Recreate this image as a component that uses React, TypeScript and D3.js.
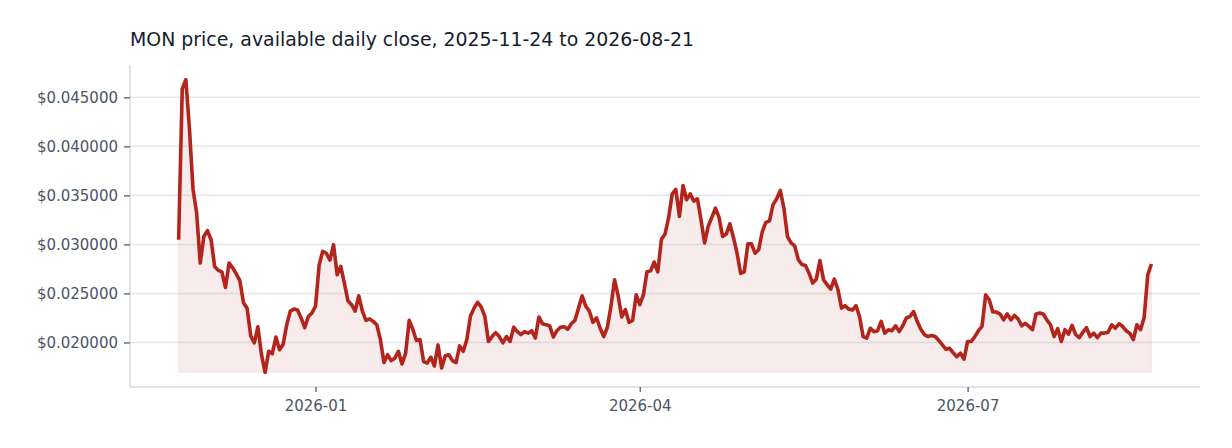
import React, { useEffect, useRef } from 'react';
import * as d3 from 'd3';

// Daily closes (USD), one value per calendar day starting 2025-11-24
const startDate = '2025-11-24';

const closesNov2025 = [0.03048, 0.04586, 0.0468, 0.0418, 0.0356, 0.0332, 0.0281];
const closesDec2025 = [
  0.0308, 0.0314, 0.0305, 0.02775, 0.02735, 0.0272, 0.0256, 0.0281, 0.0276, 0.027,
  0.0263, 0.02405, 0.0235, 0.0207, 0.01995, 0.0216, 0.01875, 0.01695, 0.0191, 0.01885,
  0.02055, 0.01925, 0.0198, 0.0218, 0.0232, 0.0234, 0.0233, 0.0225, 0.0215, 0.02265, 0.023,
];
const closesJan2026 = [
  0.0237, 0.0279, 0.0293, 0.0291, 0.0284, 0.02997, 0.0269, 0.02775, 0.02605, 0.02425,
  0.02385, 0.0232, 0.02475, 0.0232, 0.02225, 0.0224, 0.02215, 0.0218, 0.0203, 0.01795,
  0.01875, 0.01815, 0.0184, 0.0191, 0.0178, 0.0189, 0.02225, 0.02135, 0.0202, 0.0203, 0.01805,
];
const closesFeb2026 = [
  0.0179, 0.0185, 0.0176, 0.01975, 0.0174, 0.01865, 0.01875, 0.01815, 0.01795, 0.01965,
  0.0191, 0.0203, 0.0227, 0.0235, 0.0241, 0.0236, 0.02265, 0.0201, 0.0206, 0.021,
  0.0206, 0.01995, 0.0206, 0.0201, 0.02155, 0.0211, 0.0208, 0.0211,
];
const closesMar2026 = [
  0.02095, 0.0212, 0.02045, 0.0226, 0.0219, 0.0218, 0.0217, 0.02055, 0.0212, 0.02155,
  0.0216, 0.02135, 0.0219, 0.02225, 0.0235, 0.02475, 0.0237, 0.0232, 0.02205, 0.0225,
  0.02145, 0.0206, 0.02155, 0.0237, 0.0264, 0.02475, 0.0226, 0.02335, 0.02205, 0.02225, 0.02485,
];
const closesApr2026 = [
  0.02385, 0.02485, 0.0272, 0.0273, 0.0282, 0.0272, 0.0305, 0.03105, 0.0327, 0.03515,
  0.0356, 0.03285, 0.036, 0.03455, 0.03515, 0.0344, 0.03465, 0.0325, 0.03015, 0.03185,
  0.03275, 0.0337, 0.03275, 0.0308, 0.03105, 0.0321, 0.0307, 0.0291, 0.02705, 0.0272,
];
const closesMay2026 = [
  0.03005, 0.03005, 0.0291, 0.02945, 0.0313, 0.03225, 0.0324, 0.03405, 0.03465, 0.0355,
  0.0337, 0.0308, 0.03015, 0.02985, 0.02845, 0.02795, 0.02785, 0.02705, 0.02605, 0.02645,
  0.02835, 0.0264, 0.0259, 0.02545, 0.02645, 0.0254, 0.0235, 0.02375, 0.0234, 0.0233, 0.02375,
];
const closesJun2026 = [
  0.02265, 0.0206, 0.02045, 0.02145, 0.0211, 0.0212, 0.02215, 0.02095, 0.0213, 0.0212,
  0.0217, 0.0211, 0.0217, 0.0225, 0.02265, 0.02315, 0.02215, 0.02135, 0.0208, 0.0206,
  0.0207, 0.0206, 0.0202, 0.01975, 0.0193, 0.0194, 0.01895, 0.01855, 0.0189, 0.0183,
];
const closesJul2026 = [
  0.0201, 0.0201, 0.0206, 0.0212, 0.02165, 0.02485, 0.02435, 0.0231, 0.0231, 0.0229,
  0.0223, 0.0229, 0.0223, 0.02275, 0.0224, 0.0217, 0.02195, 0.02165, 0.0213, 0.0229,
  0.023, 0.0229, 0.0223, 0.0218, 0.0206, 0.0214, 0.0201, 0.0213, 0.02085, 0.02175, 0.0208,
];
const closesAug2026 = [
  0.0205, 0.02105, 0.0215, 0.0206, 0.02095, 0.0205, 0.02095, 0.02095, 0.02105, 0.0218,
  0.02145, 0.0219, 0.02165, 0.0212, 0.02095, 0.0203, 0.0218, 0.0213, 0.02255, 0.0269, 0.028,
];

const xTickLabels = ['2026-01', '2026-04', '2026-07'];
const yTickValues = [0.02, 0.025, 0.03, 0.035, 0.04, 0.045];

const title = 'MON price, available daily close, 2025-11-24 to 2026-08-21';

interface Point {
  date: Date;
  close: number;
}

const App: React.FC = () => {
  const svgRef = useRef<SVGSVGElement>(null);

  useEffect(() => {
    if (!svgRef.current) return;
    const root = d3.select(svgRef.current);
    root.selectAll('*').remove();

    const svgWidth = 1232;
    const svgHeight = 448;
    const margin = { top: 65, right: 32, bottom: 61, left: 130 };
    const width = svgWidth - margin.left - margin.right;
    const height = svgHeight - margin.top - margin.bottom;

    const start = d3.utcParse('%Y-%m-%d')(startDate) as Date;
    const closes = [
      ...closesNov2025, ...closesDec2025, ...closesJan2026, ...closesFeb2026, ...closesMar2026,
      ...closesApr2026, ...closesMay2026, ...closesJun2026, ...closesJul2026, ...closesAug2026,
    ];
    const data: Point[] = closes.map((close, i) => ({ date: d3.utcDay.offset(start, i), close }));

    const [tMin, tMax] = d3.extent(data, d => d.date) as [Date, Date];
    const [yMin, yMax] = d3.extent(data, d => d.close) as [number, number];
    const tPad = (tMax.getTime() - tMin.getTime()) * 0.05;
    const yPad = (yMax - yMin) * 0.05;

    const x = d3.scaleUtc()
      .domain([new Date(tMin.getTime() - tPad), new Date(tMax.getTime() + tPad)])
      .range([0, width]);
    const y = d3.scaleLinear()
      .domain([yMin - yPad, yMax + yPad])
      .range([height, 0]);

    const font = '"DejaVu Sans", sans-serif';
    const lineColor = '#b3241c';

    // Title
    root.append('text')
      .attr('x', margin.left)
      .attr('y', 46)
      .attr('fill', '#161d2c')
      .style('font-family', font)
      .style('font-size', '18.9px')
      .text(title);

    const svg = root.append('g')
      .attr('transform', `translate(${margin.left},${margin.top})`);

    // Grid lines
    svg.append('g')
      .selectAll('line')
      .data(yTickValues)
      .enter()
      .append('line')
      .attr('x1', 0)
      .attr('x2', width)
      .attr('y1', d => y(d))
      .attr('y2', d => y(d))
      .attr('stroke', '#e6e7ec')
      .attr('stroke-width', 1.5);

    // Area and line
    const area = d3.area<Point>()
      .x(d => x(d.date))
      .y0(y(yMin))
      .y1(d => y(d.close));
    const line = d3.line<Point>()
      .x(d => x(d.date))
      .y(d => y(d.close));

    svg.append('path')
      .datum(data)
      .attr('d', area)
      .attr('fill', lineColor)
      .attr('fill-opacity', 0.09)
      .attr('stroke', lineColor)
      .attr('stroke-opacity', 0.06)
      .attr('stroke-width', 1.5);

    svg.append('path')
      .datum(data)
      .attr('d', line)
      .attr('fill', 'none')
      .attr('stroke', lineColor)
      .attr('stroke-width', 3.6)
      .attr('stroke-linejoin', 'round');

    // Axes
    const xTickDates = xTickLabels.map(s => d3.utcParse('%Y-%m')(s) as Date);
    const xAxis = svg.append('g')
      .attr('transform', `translate(0,${height})`)
      .call(d3.axisBottom(x).tickValues(xTickDates).tickFormat(d3.utcFormat('%Y-%m') as any).tickSize(5).tickPadding(8));
    const yAxis = svg.append('g')
      .call(d3.axisLeft(y).tickValues(yTickValues).tickFormat(d3.format('$.6f')).tickSize(6).tickPadding(6));

    [xAxis, yAxis].forEach(ax => {
      ax.select('.domain').attr('stroke', '#d5d8de').attr('stroke-width', 1.5);
      ax.selectAll('.tick line').attr('stroke', '#6b7385').attr('stroke-width', 1.5);
      ax.selectAll('.tick text')
        .attr('fill', '#4b5567')
        .style('font-family', font)
        .style('font-size', '15px');
    });
    xAxis.select('.domain').attr('d', `M0,0H${width}`);
    yAxis.select('.domain').attr('d', `M0,0V${height}`);
  }, []);

  return (
    <svg
      ref={svgRef}
      width={1232}
      height={448}
      style={{ position: 'absolute', left: 0, top: 0, background: '#ffffff' }}
    />
  );
};

export default App;
